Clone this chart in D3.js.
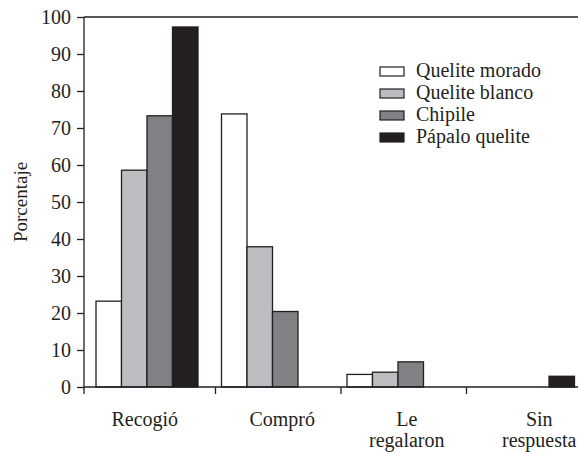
<!DOCTYPE html>
<html>
<head>
<meta charset="utf-8">
<script src="https://cdn.jsdelivr.net/npm/d3@7"></script>
<style>
  body { margin: 0; background: #fff; }
  svg text { font-family: "Liberation Serif", "Times New Roman", serif; fill: #231f20; }
</style>
</head>
<body>
<div id="chart"></div>
<script>
// data
var categories = ["Recogió", "Compró", "Le regalaron", "Sin respuesta"];
var categoryLines = [["Recogió"], ["Compró"], ["Le", "regalaron"], ["Sin", "respuesta"]];
var series = ["Quelite morado", "Quelite blanco", "Chipile", "Pápalo quelite"];
var quelite_morado = [23.2, 73.8, 3.4, 0];
var quelite_blanco = [58.6, 37.9, 4.0, 0];
var chipile = [73.3, 20.4, 6.8, 0];
var papalo_quelite = [97.3, 0, 0, 2.9];
var yTicks = [0, 10, 20, 30, 40, 50, 60, 70, 80, 90, 100];
var colors = ["#ffffff", "#bcbdc1", "#808184", "#231f20"];

var values = [quelite_morado, quelite_blanco, chipile, papalo_quelite];

// label nudges (the source figure does not center them exactly)
var labelShift = [-8, 4, 3, 10];

var width = 578, height = 453;

var svg = d3.select("#chart").append("svg")
    .attr("width", width)
    .attr("height", height);

var yScale = d3.scaleLinear().domain([0, 100]).range([387, 17]);

var x0 = d3.scaleBand().domain(categories).range([90, 592]);
var x1 = d3.scaleBand().domain(series).range([6, 108]);

// top frame line
svg.append("line")
    .attr("x1", 84).attr("x2", width)
    .attr("y1", yScale(100)).attr("y2", yScale(100))
    .attr("stroke", "#231f20").attr("stroke-width", 1.3);

// bars
series.forEach(function (s, i) {
    svg.append("g").selectAll("rect")
        .data(values[i].map(function (v, j) { return { cat: categories[j], v: v }; })
            .filter(function (d) { return d.v > 0; }))
        .enter().append("rect")
        .attr("x", function (d) { return x0(d.cat) + x1(s); })
        .attr("width", x1.bandwidth())
        .attr("y", function (d) { return yScale(d.v); })
        .attr("height", function (d) { return yScale(0) - yScale(d.v); })
        .attr("fill", colors[i])
        .attr("stroke", "#231f20")
        .attr("stroke-width", 1.3);
});

// y axis
var yAxis = d3.axisLeft(yScale).tickValues(yTicks).tickSize(7).tickPadding(6);
var gy = svg.append("g").attr("transform", "translate(84,0)").call(yAxis);
gy.attr("font-family", null);
gy.select(".domain").remove();
gy.selectAll("line").attr("stroke", "#231f20").attr("stroke-width", 1.3);
gy.selectAll("text").style("font-size", "20px").attr("fill", "#231f20");
svg.append("line")
    .attr("x1", 84).attr("x2", 84)
    .attr("y1", yScale(100)).attr("y2", yScale(0) + 7)
    .attr("stroke", "#231f20").attr("stroke-width", 1.3);

// x axis
svg.append("line")
    .attr("x1", 84).attr("x2", width)
    .attr("y1", yScale(0)).attr("y2", yScale(0))
    .attr("stroke", "#231f20").attr("stroke-width", 1.3);
svg.append("g").selectAll("line")
    .data(categories.slice(1))
    .enter().append("line")
    .attr("x1", function (d) { return x0(d); })
    .attr("x2", function (d) { return x0(d); })
    .attr("y1", yScale(0)).attr("y2", yScale(0) + 7)
    .attr("stroke", "#231f20").attr("stroke-width", 1.3);

var xl = svg.append("g").selectAll("text")
    .data(categories)
    .enter().append("text")
    .attr("text-anchor", "middle")
    .attr("y", 426)
    .style("font-size", "20px");
xl.each(function (d, i) {
    var t = d3.select(this);
    var cx = x0(d) + x0.bandwidth() / 2 + labelShift[i];
    categoryLines[i].forEach(function (line, k) {
        t.append("tspan")
            .attr("x", cx)
            .attr("dy", k === 0 ? 0 : 21)
            .text(line);
    });
});

// y label
svg.append("text")
    .attr("transform", "translate(27,202) rotate(-90)")
    .attr("text-anchor", "middle")
    .style("font-size", "19px")
    .text("Porcentaje");

// legend
var legend = svg.append("g").attr("transform", "translate(380,67)");
series.forEach(function (s, i) {
    var row = legend.append("g").attr("transform", "translate(0," + (i * 22) + ")");
    row.append("rect")
        .attr("width", 24).attr("height", 9)
        .attr("fill", colors[i])
        .attr("stroke", "#231f20").attr("stroke-width", 1.2);
    row.append("text")
        .attr("x", 36).attr("y", 10)
        .style("font-size", "20px")
        .text(s);
});
</script>
</body>
</html>
